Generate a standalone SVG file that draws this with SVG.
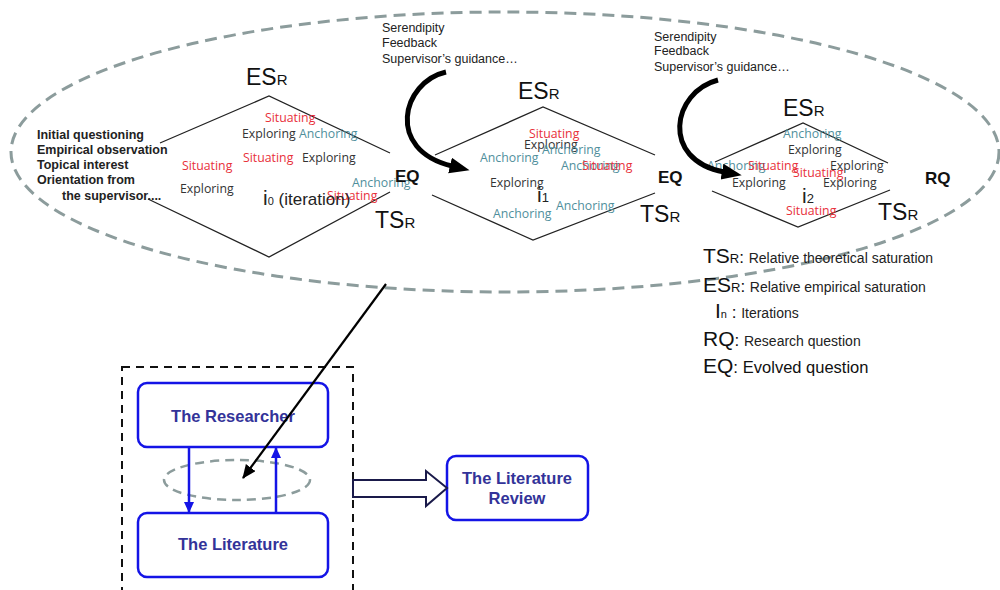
<svg xmlns="http://www.w3.org/2000/svg" width="1000" height="590" viewBox="0 0 1000 590">
<defs>
<style>
.bg{fill:#ffffff}
.dash-ell{fill:none;stroke:#8c9c9c;stroke-width:3;stroke-dasharray:12,7}
.dia{fill:none;stroke:#222;stroke-width:1.3}
.big{font-family:"Liberation Sans",Arial,sans-serif;font-size:23px;fill:#111}
.sub{font-size:15px}
.eq{font-family:"Liberation Sans",Arial,sans-serif;font-size:17px;font-weight:bold;fill:#111}
.lbl{font-family:"Liberation Sans",Arial,sans-serif;font-size:12.5px;fill:#222}
.lblb{font-family:"Liberation Sans",Arial,sans-serif;font-size:12.5px;font-weight:bold;fill:#222}
.w{font-family:"Open Sans","Noto Sans",sans-serif;font-size:12.3px}
.sit{fill:#e8303a}
.anc{fill:#4f8f9c}
.exp{fill:#333}
.it{font-family:"Liberation Sans",Arial,sans-serif;font-size:17px;fill:#222}
.leg{font-family:"Liberation Sans",Arial,sans-serif;font-size:21px;fill:#111}
.legs{font-family:"Liberation Sans",Arial,sans-serif;fill:#222}
.curve{fill:none;stroke:#000;stroke-width:5}
.box{fill:#fff;stroke:#1414e6;stroke-width:2.5}
.btxt{font-family:"Liberation Sans",Arial,sans-serif;font-size:16.5px;font-weight:bold;fill:#333399;text-anchor:middle}
.blue{stroke:#1414e6;stroke-width:2.5;fill:none}
</style>
<marker id="bigHead" markerUnits="userSpaceOnUse" markerWidth="22" markerHeight="18" refX="2" refY="8" orient="auto">
<path d="M0,0 L20,8 L0,16 Z" fill="#000"/>
</marker>
<marker id="blackHead" markerUnits="userSpaceOnUse" markerWidth="16" markerHeight="14" refX="13" refY="6" orient="auto">
<path d="M0,0 L14,6 L0,12 Z" fill="#000"/>
</marker>
<marker id="blueHead" markerUnits="userSpaceOnUse" markerWidth="12" markerHeight="12" refX="10" refY="5" orient="auto">
<path d="M0,0 L11,5 L0,10 Z" fill="#1414e6"/>
</marker>
</defs>
<rect class="bg" x="0" y="0" width="1000" height="590"/>

<g id="scope-ellipse">
<ellipse class="dash-ell" cx="505" cy="152" rx="494" ry="140"/>
</g>

<g id="iteration-0">
<polyline class="dia" points="160,143 269,96 390,153"/>
<polyline class="dia" points="148,199 269,257 390,192"/>
<text class="big" x="246" y="85">ES<tspan class="sub">R</tspan></text>
<text class="big" x="375" y="228">TS<tspan class="sub">R</tspan></text>
<text class="w sit" x="265" y="122">Situating</text>
<text class="w exp" x="242" y="138">Exploring</text>
<text class="w anc" x="299" y="138">Anchoring</text>
<text class="w sit" x="243" y="162">Situating</text>
<text class="w exp" x="302" y="162">Exploring</text>
<text class="w sit" x="182" y="170">Situating</text>
<text class="w exp" x="180" y="193">Exploring</text>
<text class="w anc" x="352" y="187">Anchoring</text>
<text class="w sit" x="327" y="200">Situating</text>
<text class="it" x="263" y="205"><tspan font-size="21">i</tspan><tspan font-size="11">0</tspan> (iteration)</text>
</g>

<g id="start-notes">
<text class="lblb" x="37" y="139">Initial questioning</text>
<text class="lblb" x="37" y="154">Empirical observation</text>
<text class="lblb" x="37" y="169">Topical interest</text>
<text class="lblb" x="37" y="184">Orientation from</text>
<text class="lblb" x="62" y="200">the supervisor....</text>
</g>

<g id="eq-1"><text class="eq" x="395" y="182">EQ</text></g>

<g id="feedback-1">
<text class="lbl" x="382" y="32">Serendipity</text>
<text class="lbl" x="382" y="47">Feedback</text>
<text class="lbl" x="382" y="63">Supervisor’s guidance…</text>
</g>

<g id="iteration-1">
<polyline class="dia" points="435,155 543,107 655,155"/>
<polyline class="dia" points="432,195 533,240 655,193"/>
<text class="big" x="518" y="99">ES<tspan class="sub">R</tspan></text>
<text class="big" x="640" y="222">TS<tspan class="sub">R</tspan></text>
<text class="w sit" x="529" y="138">Situating</text>
<text class="w exp" x="524" y="149">Exploring</text>
<text class="w anc" x="542" y="154">Anchoring</text>
<text class="w anc" x="480" y="162">Anchoring</text>
<text class="w anc" x="561" y="170">Anchoring</text>
<text class="w sit" x="582" y="170">Situating</text>
<text class="w exp" x="490" y="187">Exploring</text>
<text class="w anc" x="556" y="210">Anchoring</text>
<text class="w anc" x="493" y="218">Anchoring</text>
<text class="it" x="537" y="202"><tspan font-size="21">i</tspan><tspan font-size="13">1</tspan></text>
</g>

<g id="eq-2"><text class="eq" x="658" y="183">EQ</text></g>

<g id="feedback-2">
<text class="lbl" x="654" y="41">Serendipity</text>
<text class="lbl" x="654" y="55">Feedback</text>
<text class="lbl" x="654" y="71">Supervisor’s guidance…</text>
</g>

<g id="iteration-2">
<polyline class="dia" points="715,162 803,123 888,163"/>
<polyline class="dia" points="712,191 798,227 890,190"/>
<text class="big" x="783" y="116">ES<tspan class="sub">R</tspan></text>
<text class="big" x="878" y="220">TS<tspan class="sub">R</tspan></text>
<text class="w anc" x="783" y="138">Anchoring</text>
<text class="w exp" x="788" y="154">Exploring</text>
<text class="w anc" x="707" y="170">Anchoring</text>
<text class="w sit" x="748" y="170">Situating</text>
<text class="w exp" x="830" y="170">Exploring</text>
<text class="w sit" x="793" y="177">Situating</text>
<text class="w exp" x="732" y="187">Exploring</text>
<text class="w exp" x="823" y="187">Exploring</text>
<text class="it" x="802" y="203"><tspan font-size="21">i</tspan><tspan font-size="13">2</tspan></text>
<text class="w sit" x="786" y="215">Situating</text>
</g>

<g id="rq"><text class="eq" x="925" y="184">RQ</text></g>

<g id="legend">
<text class="leg" x="703" y="263">TS<tspan font-size="13">R</tspan><tspan font-size="17">: </tspan><tspan class="legs" font-size="14">Relative theoretical saturation</tspan></text>
<text class="leg" x="703" y="292">ES<tspan font-size="13">R</tspan><tspan font-size="17">: </tspan><tspan class="legs" font-size="14">Relative empirical saturation</tspan></text>
<text class="leg" x="715" y="318">I<tspan font-size="11">n</tspan><tspan font-size="17"> : </tspan><tspan class="legs" font-size="14">Iterations</tspan></text>
<text class="leg" x="703" y="346">RQ<tspan font-size="17">: </tspan><tspan class="legs" font-size="14">Research question</tspan></text>
<text class="leg" x="703" y="373">EQ<tspan font-size="17">: </tspan><tspan font-size="16.5">Evolved question</tspan></text>
</g>

<g id="context-box">
<rect x="122" y="367" width="231" height="240" fill="none" stroke="#111" stroke-width="2" stroke-dasharray="8,6"/>
</g>

<g id="researcher">
<rect class="box" x="138" y="383" width="190" height="64" rx="9"/>
<text class="btxt" x="233" y="422">The Researcher</text>
</g>

<g id="literature">
<rect class="box" x="138" y="513" width="190" height="64" rx="9"/>
<text class="btxt" x="233" y="550">The Literature</text>
</g>

<g id="interaction-ellipse">
<ellipse cx="237" cy="480" rx="73" ry="20" fill="none" stroke="#8c9c9c" stroke-width="2.5" stroke-dasharray="9,6"/>
</g>

<g id="literature-review">
<rect class="box" x="447" y="456" width="141" height="64" rx="9"/>
<text class="btxt" x="517" y="484">The Literature</text>
<text class="btxt" x="517" y="504">Review</text>
</g>

<g id="connectors">
<path class="curve" d="M446,72 C402,82 385,150 452,166" marker-end="url(#bigHead)"/>
<path class="curve" d="M718,80 C672,92 660,160 724,172" marker-end="url(#bigHead)"/>
<line x1="386" y1="284" x2="243" y2="478" stroke="#000" stroke-width="2.2" marker-end="url(#blackHead)"/>
<line class="blue" x1="189" y1="447" x2="189" y2="512" marker-end="url(#blueHead)"/>
<line class="blue" x1="276" y1="513" x2="276" y2="448" marker-end="url(#blueHead)"/>
<polygon points="353,480 426,480 426,471 447,488 426,506 426,497 353,497" fill="#fff" stroke="#1a1a4a" stroke-width="2"/>
</g>
</svg>
